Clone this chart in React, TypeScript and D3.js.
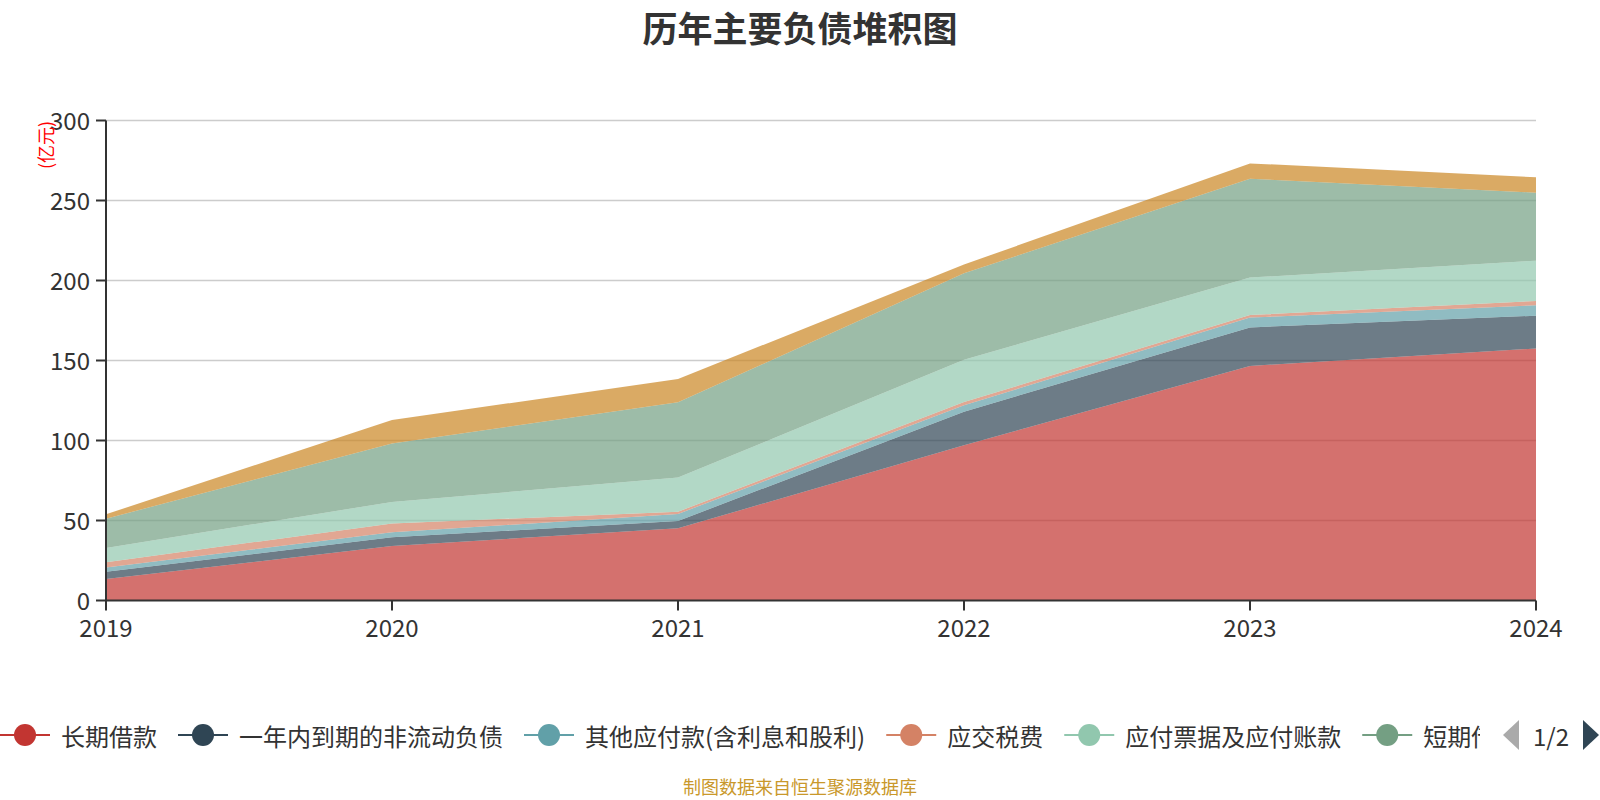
import { useEffect, useRef } from "react"
import * as d3 from "d3"

const years = ["2019", "2020", "2021", "2022", "2023", "2024"]
const seriesNames = [
  "长期借款",
  "一年内到期的非流动负债",
  "其他应付款(含利息和股利)",
  "应交税费",
  "应付票据及应付账款",
  "短期借款",
  "合同负债",
]
const longLoan = [13.4, 34.1, 45.1, 97.0, 146.6, 157.5]
const currentNonCurrent = [4.6, 5.4, 4.6, 21.0, 24.1, 20.5]
const otherPayables = [2.7, 3.1, 4.4, 4.0, 6.1, 6.5]
const taxPayable = [3.2, 5.6, 1.4, 2.0, 1.6, 2.7]
const notesPayable = [8.9, 13.4, 21.3, 26.5, 23.4, 25.2]
const shortLoan = [18.3, 36.6, 47.1, 54.0, 61.8, 42.5]
const contractLiab = [2.8, 14.6, 14.5, 5.5, 9.6, 9.6]
const yTicks = [0, 50, 100, 150, 200, 250, 300]

const colors = ["#c23531", "#2f4554", "#61a0a8", "#d48265", "#91c7ae", "#749f83", "#ca8622"]
const FONT = "'Noto Sans CJK SC', 'Noto Sans', sans-serif"

export default function App() {
  const svgRef = useRef<SVGSVGElement>(null)

  useEffect(() => {
    if (!svgRef.current) return
    const root = d3.select(svgRef.current)
    root.selectAll("*").remove()

    const width = 1600
    const left = 106
    const right = 1536
    const top = 120.5
    const bottom = 600.5

    const allSeries = [longLoan, currentNonCurrent, otherPayables, taxPayable, notesPayable, shortLoan, contractLiab]
    const rows = years.map((yr, i) => {
      const row: any = { year: yr }
      seriesNames.forEach((n, k) => (row[n] = allSeries[k][i]))
      return row
    })

    const x = d3.scalePoint<string>().domain(years).range([left, right])
    const y = d3.scaleLinear().domain([0, 300]).range([bottom, top])

    const svg = root.append("g").style("font-family", FONT)

    // Title
    svg
      .append("text")
      .attr("x", width / 2)
      .attr("y", 26)
      .attr("text-anchor", "middle")
      .attr("dominant-baseline", "central")
      .style("font-size", "35px")
      .style("font-weight", "bold")
      .attr("fill", "#333")
      .text("历年主要负债堆积图")

    // Grid lines
    svg
      .append("g")
      .selectAll("line")
      .data(yTicks.filter((t) => t > 0))
      .join("line")
      .attr("x1", left)
      .attr("x2", right)
      .attr("y1", (d) => y(d))
      .attr("y2", (d) => y(d))
      .attr("stroke", "#ccc")
      .attr("stroke-width", 1.5)

    // Stacked areas
    const stack = d3.stack<any>().keys(seriesNames)
    const layers = stack(rows)
    const area = d3
      .area<any>()
      .x((d) => x(d.data.year) as number)
      .y0((d) => y(d[0]))
      .y1((d) => y(d[1]))

    svg
      .append("g")
      .selectAll("path")
      .data(layers)
      .join("path")
      .attr("d", area)
      .attr("fill", (_, i) => colors[i])
      .attr("fill-opacity", 0.7)

    // Y axis
    const yAxis = svg.append("g")
    yAxis
      .append("line")
      .attr("x1", left)
      .attr("x2", left)
      .attr("y1", top)
      .attr("y2", bottom)
      .attr("stroke", "#333")
      .attr("stroke-width", 2)
    yAxis
      .selectAll("line.tick")
      .data(yTicks)
      .join("line")
      .attr("class", "tick")
      .attr("x1", left - 10)
      .attr("x2", left)
      .attr("y1", (d) => y(d))
      .attr("y2", (d) => y(d))
      .attr("stroke", "#333")
      .attr("stroke-width", 2)
    yAxis
      .selectAll("text")
      .data(yTicks)
      .join("text")
      .attr("x", left - 16)
      .attr("y", (d) => y(d) - 1)
      .attr("text-anchor", "end")
      .attr("dominant-baseline", "central")
      .style("font-size", "24px")
      .attr("fill", "#333")
      .text((d) => d)

    // Y axis unit label
    svg
      .append("text")
      .attr("transform", "translate(45,145) rotate(-90)")
      .attr("text-anchor", "middle")
      .attr("dominant-baseline", "central")
      .style("font-size", "18px")
      .attr("fill", "#ff0000")
      .text("(亿元)")

    // X axis
    const xAxis = svg.append("g")
    xAxis
      .append("line")
      .attr("x1", left)
      .attr("x2", right)
      .attr("y1", bottom)
      .attr("y2", bottom)
      .attr("stroke", "#333")
      .attr("stroke-width", 2)
    xAxis
      .selectAll("line.tick")
      .data(years)
      .join("line")
      .attr("class", "tick")
      .attr("x1", (d) => x(d) as number)
      .attr("x2", (d) => x(d) as number)
      .attr("y1", bottom)
      .attr("y2", bottom + 10)
      .attr("stroke", "#333")
      .attr("stroke-width", 2)
    xAxis
      .selectAll("text")
      .data(years)
      .join("text")
      .attr("x", (d) => x(d) as number)
      .attr("y", bottom + 26)
      .attr("text-anchor", "middle")
      .attr("dominant-baseline", "central")
      .style("font-size", "24px")
      .attr("fill", "#333")
      .text((d) => d)

    // Legend (scrollable, page 1 of 2)
    const legendY = 735
    root
      .append("defs")
      .append("clipPath")
      .attr("id", "legend-clip")
      .append("rect")
      .attr("x", -20)
      .attr("y", legendY - 30)
      .attr("width", 1500)
      .attr("height", 60)
    const legend = svg.append("g").attr("clip-path", "url(#legend-clip)")
    let cursor = 0
    seriesNames.slice(0, 6).forEach((name, i) => {
      const item = legend.append("g").attr("transform", `translate(${cursor},0)`)
      item
        .append("line")
        .attr("x1", 0)
        .attr("x2", 50)
        .attr("y1", legendY)
        .attr("y2", legendY)
        .attr("stroke", colors[i])
        .attr("stroke-width", 2)
      item.append("circle").attr("cx", 25).attr("cy", legendY).attr("r", 11).attr("fill", colors[i])
      const t = item
        .append("text")
        .attr("x", 61)
        .attr("y", legendY)
        .attr("dominant-baseline", "central")
        .style("font-size", "24px")
        .attr("fill", "#333")
        .text(name)
      const w = (t.node() as SVGTextElement).getComputedTextLength()
      cursor += 61 + w + 21
    })

    // Pager
    svg
      .append("path")
      .attr("d", `M1519,${legendY - 15}L1503,${legendY}L1519,${legendY + 15}Z`)
      .attr("fill", "#aaa")
    svg
      .append("text")
      .attr("x", 1551)
      .attr("y", legendY)
      .attr("text-anchor", "middle")
      .attr("dominant-baseline", "central")
      .style("font-size", "24px")
      .attr("fill", "#333")
      .text("1/2")
    svg
      .append("path")
      .attr("d", `M1583,${legendY - 15}L1599,${legendY}L1583,${legendY + 15}Z`)
      .attr("fill", "#2f4554")

    // Source footnote
    svg
      .append("text")
      .attr("x", width / 2)
      .attr("y", 786)
      .attr("text-anchor", "middle")
      .attr("dominant-baseline", "central")
      .style("font-size", "18px")
      .attr("fill", "#c9982b")
      .text("制图数据来自恒生聚源数据库")
  }, [])

  return (
    <svg
      ref={svgRef}
      width={1600}
      height={800}
      style={{ position: "absolute", left: 0, top: 0, background: "#fff" }}
    ></svg>
  )
}
